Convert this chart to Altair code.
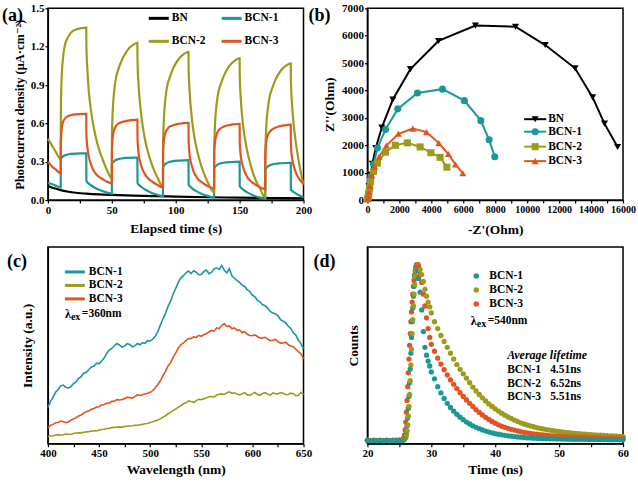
import altair as alt
import pandas as pd

FONT = "Liberation Serif, DejaVu Serif, serif"
SERIES = ["BN", "BCN-1", "BCN-2", "BCN-3"]
COLORS = ["#000000", "#1a9896", "#9c9c1c", "#e2541f"]

# ---------------- (a) photocurrent vs time ----------------
A_BN_T = [0, 2, 5, 10, 15, 20, 30, 40, 50, 75, 100, 125, 150, 175, 200]
A_BN_V = [0.112, 0.103, 0.092, 0.078, 0.067, 0.059, 0.050, 0.044, 0.040, 0.033,
          0.027, 0.022, 0.019, 0.016, 0.014]

A_B1_T = [0, 3, 6, 10,
          10.1, 11, 12.5, 15, 18, 22, 26, 30,
          30.1, 31, 33, 36, 40, 45, 50,
          50.1, 51, 52.5, 55, 58, 62, 66, 70,
          70.1, 71, 73, 76, 80, 85, 90,
          90.1, 91, 92.5, 95, 98, 102, 106, 110,
          110.1, 111, 113, 116, 120, 125, 130,
          130.1, 131, 132.5, 135, 138, 142, 146, 150,
          150.1, 151, 153, 156, 160, 165, 170,
          170.1, 171, 172.5, 175, 178, 182, 186, 190,
          190.1, 191, 193, 196, 200]
A_B1_V = [0.135, 0.125, 0.113, 0.100,
          0.318, 0.333, 0.346, 0.355, 0.361, 0.364, 0.365, 0.365,
          0.150, 0.138, 0.120, 0.100, 0.080, 0.063, 0.050,
          0.280, 0.296, 0.310, 0.320, 0.326, 0.330, 0.332, 0.333,
          0.135, 0.122, 0.104, 0.083, 0.062, 0.043, 0.030,
          0.255, 0.272, 0.287, 0.298, 0.305, 0.309, 0.311, 0.312,
          0.120, 0.108, 0.090, 0.070, 0.050, 0.033, 0.020,
          0.245, 0.262, 0.276, 0.287, 0.293, 0.297, 0.299, 0.300,
          0.110, 0.098, 0.080, 0.060, 0.040, 0.022, 0.010,
          0.235, 0.252, 0.266, 0.277, 0.284, 0.288, 0.290, 0.291,
          0.080, 0.072, 0.058, 0.040, 0.022]

A_B2_T = [0, 3, 6, 10,
          10.1, 10.5, 11, 12, 13.5, 15, 18, 22, 26, 30,
          30.1, 31, 32, 34, 36, 39, 42, 46, 50,
          50.1, 50.5, 51, 52, 53.5, 55, 58, 62, 66, 70,
          70.1, 71, 72, 74, 76, 79, 82, 86, 90,
          90.1, 90.5, 91, 92, 93.5, 95, 98, 102, 106, 110,
          110.1, 111, 112, 114, 116, 119, 122, 126, 130,
          130.1, 130.5, 131, 132, 133.5, 135, 138, 142, 146, 150,
          150.1, 151, 152, 154, 156, 159, 162, 166, 170,
          170.1, 170.5, 171, 172, 173.5, 175, 178, 182, 186, 190,
          190.1, 191, 192, 194, 196, 198, 200]
A_B2_V = [0.48, 0.43, 0.38, 0.32,
          0.66, 0.89, 1.01, 1.13, 1.22, 1.26, 1.31, 1.335, 1.345, 1.35,
          1.21, 1.00, 0.85, 0.68, 0.56, 0.43, 0.34, 0.24, 0.17,
          0.49, 0.65, 0.75, 0.87, 0.97, 1.02, 1.10, 1.17, 1.21, 1.23,
          1.09, 0.89, 0.76, 0.59, 0.47, 0.35, 0.26, 0.17, 0.10,
          0.42, 0.58, 0.68, 0.80, 0.90, 0.95, 1.03, 1.10, 1.14, 1.16,
          1.03, 0.83, 0.70, 0.53, 0.42, 0.30, 0.21, 0.12, 0.06,
          0.38, 0.53, 0.64, 0.75, 0.85, 0.90, 0.98, 1.05, 1.09, 1.11,
          0.98, 0.78, 0.65, 0.49, 0.38, 0.26, 0.17, 0.09, 0.02,
          0.34, 0.49, 0.60, 0.71, 0.81, 0.86, 0.94, 1.01, 1.05, 1.07,
          0.94, 0.75, 0.62, 0.45, 0.32, 0.21, 0.12]

A_B3_T = [0, 3, 6, 10,
          10.1, 10.5, 11, 12, 14, 17, 21, 25, 30,
          30.1, 30.5, 31, 32, 34, 37, 41, 45, 50,
          50.1, 50.5, 51, 52, 54, 57, 61, 65, 70,
          70.1, 70.5, 71, 72, 74, 77, 81, 85, 90,
          90.1, 90.5, 91, 92, 94, 97, 101, 105, 110,
          110.1, 110.5, 111, 112, 114, 117, 121, 125, 130,
          130.1, 130.5, 131, 132, 134, 137, 141, 145, 150,
          150.1, 150.5, 151, 152, 154, 157, 161, 165, 170,
          170.1, 170.5, 171, 172, 174, 177, 181, 185, 190,
          190.1, 190.5, 191, 192, 194, 197, 200]
A_B3_V = [0.30, 0.265, 0.24, 0.21,
          0.44, 0.52, 0.57, 0.615, 0.645, 0.662, 0.670, 0.673, 0.675,
          0.52, 0.45, 0.40, 0.34, 0.27, 0.21, 0.175, 0.15, 0.13,
          0.40, 0.47, 0.515, 0.555, 0.588, 0.607, 0.618, 0.625, 0.630,
          0.48, 0.41, 0.36, 0.305, 0.24, 0.185, 0.148, 0.122, 0.100,
          0.37, 0.44, 0.485, 0.528, 0.562, 0.582, 0.594, 0.600, 0.605,
          0.46, 0.39, 0.34, 0.29, 0.225, 0.17, 0.135, 0.110, 0.090,
          0.36, 0.43, 0.475, 0.515, 0.550, 0.572, 0.585, 0.592, 0.597,
          0.45, 0.385, 0.335, 0.285, 0.22, 0.165, 0.130, 0.105, 0.085,
          0.35, 0.42, 0.465, 0.505, 0.540, 0.562, 0.577, 0.585, 0.590,
          0.44, 0.375, 0.33, 0.28, 0.215, 0.16, 0.125]

# ---------------- (b) Nyquist ----------------
B_BN_X = [40, 70, 110, 160, 210, 310, 520, 900, 1590, 2690, 4450, 6760, 9270,
          11130, 13000, 14100, 14840, 15660]
B_BN_Y = [80, 250, 500, 750, 920, 1320, 1900, 2650, 3670, 4780, 5810, 6370, 6330,
          5660, 4810, 3750, 2790, 1940]
B_B1_X = [20, 50, 90, 140, 210, 380, 630, 1130, 1900, 3130, 4700, 6070, 7100, 7620, 7970]
B_B1_Y = [40, 130, 280, 480, 860, 1310, 1900, 2580, 3330, 3910, 4050, 3630, 2900, 2200, 1580]
B_B2_X = [20, 50, 90, 140, 200, 380, 630, 1130, 1750, 2500, 3300, 3970, 4550, 4970]
B_B2_Y = [40, 120, 250, 430, 680, 1040, 1350, 1750, 2000, 2090, 1940, 1730, 1560, 1200]
B_B3_X = [20, 50, 90, 150, 270, 460, 730, 1190, 1940, 2840, 3700, 4470, 5070, 5510, 5970]
B_B3_Y = [40, 130, 280, 520, 900, 1220, 1580, 1990, 2420, 2610, 2480, 2080, 1680, 1300, 980]

# ---------------- (c) PL spectra ----------------
C_WL = [400, 402.5, 405, 407.5, 410, 412.5, 415, 417.5, 420, 422.5,
        425, 427.5, 430, 432.5, 435, 437.5, 440, 442.5, 445, 447.5,
        450, 452.5, 455, 457.5, 460, 462.5, 465, 467.5, 470, 472.5,
        475, 477.5, 480, 482.5, 485, 487.5, 490, 492.5, 495, 497.5,
        500, 502.5, 505, 507.5, 510, 512.5, 515, 517.5, 520, 522.5,
        525, 527.5, 530, 532.5, 535, 537.5, 540, 542.5, 545, 547.5,
        550, 552.5, 555, 557.5, 560, 562.5, 565, 567.5, 570, 572.5,
        575, 577.5, 580, 582.5, 585, 587.5, 590, 592.5, 595, 597.5,
        600, 602.5, 605, 607.5, 610, 612.5, 615, 617.5, 620, 622.5,
        625, 627.5, 630, 632.5, 635, 637.5, 640, 642.5, 645, 647.5, 650]
C_B1 = [18.4, 21.5, 23.5, 26.2, 27.5, 29.4, 29.8, 28.6, 28.4, 29.0,
        30.5, 31.4, 33.2, 34.0, 35.8, 36.3, 37.6, 39.0, 39.4, 40.9,
        40.6, 42.0, 43.5, 45.9, 47.6, 48.4, 49.8, 50.9, 50.2, 49.1,
        49.6, 50.8, 50.4, 49.2, 49.7, 50.9, 50.3, 51.3, 51.0, 52.4,
        52.2, 53.1, 54.6, 57.0, 60.3, 63.5, 66.2, 69.8, 72.5, 76.1,
        79.0, 82.0, 84.2, 85.4, 86.9, 87.8, 86.5, 87.9, 87.2, 85.9,
        86.0, 87.6, 88.3, 86.4, 87.1, 88.9, 89.4, 88.6, 90.6, 88.2,
        86.8, 89.0, 85.3, 84.1, 82.9, 82.0, 80.6, 79.8, 78.2, 77.3,
        75.5, 74.6, 72.8, 72.0, 70.6, 70.1, 68.9, 67.2, 66.4, 66.0,
        65.0, 63.1, 62.3, 61.5, 59.8, 58.6, 56.4, 55.2, 52.6, 50.9, 48.3]
C_B2 = [3.6, 3.9, 4.0, 4.4, 4.6, 4.3, 4.5, 4.9, 4.8, 4.7,
        5.2, 5.4, 5.5, 5.5, 5.8, 6.0, 6.1, 6.4, 6.6, 6.5,
        6.9, 7.2, 7.3, 7.7, 7.8, 8.2, 8.3, 8.4, 8.5, 8.4,
        8.8, 8.9, 9.0, 9.1, 9.3, 9.4, 9.6, 9.8, 10.1, 10.3,
        10.8, 11.1, 11.6, 12.0, 12.6, 13.5, 14.2, 15.2, 15.9, 16.9,
        17.6, 18.6, 19.3, 20.3, 20.8, 21.8, 21.5, 20.9, 21.9, 22.6,
        22.4, 22.9, 23.2, 23.9, 24.0, 23.8, 24.6, 25.1, 25.3, 25.0,
        25.9, 26.3, 25.6, 25.9, 25.2, 24.8, 25.4, 25.9, 24.8, 24.5,
        25.3, 26.0, 25.0, 24.6, 25.5, 25.9, 25.1, 24.7, 25.8, 25.4,
        25.3, 26.0, 25.6, 24.9, 25.0, 25.7, 25.4, 24.4, 24.6, 26.1, 24.9]
C_B3 = [8.2, 9.3, 9.8, 10.6, 10.8, 11.5, 11.2, 10.7, 11.0, 11.9,
        12.6, 13.2, 14.1, 14.6, 15.5, 16.3, 16.7, 17.5, 17.9, 18.6,
        18.8, 19.7, 19.9, 20.5, 20.7, 21.5, 21.6, 22.4, 22.2, 22.5,
        22.9, 23.6, 23.4, 23.2, 23.9, 24.8, 24.5, 24.9, 25.3, 25.6,
        26.1, 27.0, 28.4, 30.1, 32.0, 34.6, 36.8, 39.5, 41.2, 43.9,
        46.0, 48.6, 50.3, 51.2, 52.4, 53.5, 53.4, 54.3, 54.0, 55.1,
        54.6, 55.4, 55.9, 56.8, 57.6, 57.2, 58.9, 58.5, 60.2, 61.0,
        59.6, 59.9, 58.4, 58.9, 57.6, 57.8, 56.4, 56.9, 55.6, 55.0,
        54.9, 55.3, 54.5, 53.6, 53.8, 54.1, 53.2, 52.4, 52.6, 53.0,
        51.9, 51.1, 51.2, 51.6, 50.4, 49.7, 49.3, 48.0, 46.8, 45.6, 43.2]

# ---------------- (d) TRPL decay ----------------
D_T = [20.0, 20.5, 21.0, 21.5, 22.0, 22.5, 23.0, 23.5, 24.0, 24.5, 25.0, 25.5,
       25.6, 25.7, 25.8, 25.9, 26.0, 26.1, 26.2, 26.3, 26.4, 26.5, 26.6, 26.7, 26.8,
       26.9, 27.0, 27.1, 27.2, 27.3, 27.4, 27.5, 27.6, 27.7, 27.8, 27.9, 28.0,
       28.25, 28.5, 28.75, 29.0, 29.25, 29.5, 29.75, 30.0,
       30.5, 31.0, 31.5, 32.0, 32.5, 33.0, 33.5, 34.0, 34.5, 35.0,
       35.5, 36.0, 36.5, 37.0, 37.5, 38.0, 38.5, 39.0, 39.5, 40.0,
       40.5, 41.0, 41.5, 42.0, 42.5, 43.0, 43.5, 44.0, 44.5, 45.0,
       45.5, 46.0, 46.5, 47.0, 47.5, 48.0, 48.5, 49.0, 49.5, 50.0,
       50.5, 51.0, 51.5, 52.0, 52.5, 53.0, 53.5, 54.0, 54.5, 55.0,
       55.5, 56.0, 56.5, 57.0, 57.5, 58.0, 58.5, 59.0, 59.5, 60.0]
D_B1 = [1.6, 1.5, 1.6, 1.5, 1.6, 1.5, 1.6, 1.5, 1.6, 1.5, 1.6, 1.7,
        1.8, 2.0, 2.4, 3.0, 4.0, 6.0, 9.0, 13, 18, 24, 31, 38, 46, 54, 62, 69, 75,
        80, 85, 88, 90, 91, 90.5, 88, 84,
        77, 68, 57, 49, 45, 42, 39.5, 36.5,
        33, 29, 25.8, 23, 20.5, 18.4, 16.5, 14.9, 13.5, 12.2,
        11.0, 10.0, 9.1, 8.3, 7.6, 7.0, 6.4, 5.9, 5.5, 5.1,
        4.8, 4.5, 4.25, 4.0, 3.8, 3.6, 3.45, 3.3, 3.15, 3.0,
        2.9, 2.8, 2.7, 2.65, 2.6, 2.55, 2.5, 2.45, 2.4, 2.4,
        2.35, 2.3, 2.3, 2.25, 2.25, 2.2, 2.2, 2.2, 2.15, 2.15,
        2.15, 2.1, 2.1, 2.1, 2.1, 2.05, 2.05, 2.05, 2.0, 2.0]
D_B2 = [1.8, 1.7, 1.8, 1.7, 1.8, 1.7, 1.8, 1.7, 1.8, 1.8, 1.8, 1.9,
        2.0, 2.1, 2.3, 2.7, 3.3, 4.5, 6.5, 9.5, 14, 19, 25, 32, 40, 48, 56, 63, 70,
        76, 81, 85, 88, 90, 91, 91, 90.5,
        88.5, 86, 82.5, 78.5, 75, 72, 69.5, 66.5,
        62, 58.5, 55, 52, 49, 46, 43, 40.2, 37.8, 35.5,
        33.3, 31, 28.8, 26.8, 25, 23.3, 21.7, 20.2, 18.9, 17.7,
        16.6, 15.5, 14.5, 13.6, 12.8, 12, 11.3, 10.6, 10.0, 9.5,
        9.0, 8.6, 8.2, 7.8, 7.5, 7.2, 6.9, 6.6, 6.4, 6.2,
        6.0, 5.8, 5.6, 5.4, 5.25, 5.1, 4.95, 4.8, 4.7, 4.6,
        4.5, 4.4, 4.3, 4.2, 4.1, 4.0, 3.9, 3.8, 3.7, 3.6]
D_B3 = [1.7, 1.6, 1.7, 1.6, 1.7, 1.6, 1.7, 1.6, 1.7, 1.7, 1.8, 2.0,
        2.3, 3.0, 4.5, 7, 11, 16, 22, 29, 36, 43, 50, 56, 62, 67, 72, 76, 80,
        83, 86, 88, 89.5, 90.5, 91, 91, 90,
        86, 82, 76, 70, 64, 58.5, 54, 50.5,
        47, 43.5, 40.5, 37.6, 35, 32.4, 30.2, 28, 25.9, 24.0,
        22.2, 20.5, 18.9, 17.3, 15.9, 14.6, 13.4, 12.3, 11.3, 10.4,
        9.6, 8.9, 8.3, 7.8, 7.3, 6.9, 6.5, 6.1, 5.8, 5.5,
        5.2, 5.0, 4.8, 4.6, 4.45, 4.3, 4.15, 4.0, 3.9, 3.8,
        3.7, 3.6, 3.55, 3.5, 3.45, 3.4, 3.35, 3.3, 3.25, 3.2,
        3.15, 3.1, 3.05, 3.0, 3.0, 2.95, 2.95, 2.9, 2.9, 2.85]

LIFETIMES = ["4.51ns", "6.52ns", "5.51ns"]

# ---------------- helpers ----------------
W = 256
H_TOP = 192
H_BOT = 197
DUMMY = pd.DataFrame({"d": [0]})
COLOR = alt.Color("s:N", scale=alt.Scale(domain=SERIES, range=COLORS), legend=None)


def frame(parts):
    out = []
    for name, xs, ys in parts:
        out.append(pd.DataFrame({"x": xs, "y": ys, "s": name, "o": list(range(len(xs)))}))
    return pd.concat(out, ignore_index=True)


def rule(x1, x2, y, color, w=3):
    return alt.Chart(DUMMY).mark_rule(color=color, strokeWidth=w).encode(
        x=alt.value(x1), x2=alt.value(x2), y=alt.value(y))


def label(x, y, s, size=11.5, style="normal"):
    return alt.Chart(DUMMY).mark_text(
        align="left", baseline="middle", font=FONT, fontWeight="bold",
        fontSize=size, fontStyle=style, color="black").encode(
        x=alt.value(x), y=alt.value(y), text=alt.value(s))


def dot(x, y, color, shape="circle", size=40):
    return alt.Chart(DUMMY).mark_point(filled=True, opacity=1, shape=shape,
                                       size=size, color=color).encode(
        x=alt.value(x), y=alt.value(y))


def xaxis(title, values, major, pad, fmt="d", size=11):
    expr = "(datum.value % " + str(major) + " == 0) ? datum.label : ''"
    return alt.Axis(title=title, values=values, titlePadding=pad, labelExpr=expr,
                    format=fmt, labelOverlap=False, labelFontSize=size,
                    labelFlush=False)


# ---------------- panel (a) ----------------
dfa = frame([("BN", A_BN_T, A_BN_V), ("BCN-1", A_B1_T, A_B1_V),
             ("BCN-2", A_B2_T, A_B2_V), ("BCN-3", A_B3_T, A_B3_V)])
a_lines = alt.Chart(dfa).mark_line(strokeWidth=2.2, interpolate="monotone").encode(
    x=alt.X("x:Q", scale=alt.Scale(domain=[0, 200], nice=False),
            axis=xaxis("Elapsed time (s)", [0, 25, 50, 75, 100, 125, 150, 175, 200], 50, 6)),
    y=alt.Y("y:Q", scale=alt.Scale(domain=[0, 1.5], nice=False),
            axis=alt.Axis(title="Photocurrent density (μA·cm⁻²)", titleFontSize=12.5,
                          values=[0, 0.3, 0.6, 0.9, 1.2, 1.5], format=".1f", titlePadding=4)),
    color=COLOR, strokeWidth=alt.condition("datum.s == 'BN'", alt.value(2.8), alt.value(2.2)),
    order=alt.Order("o:Q"))
pa = alt.layer(
    a_lines,
    rule(101, 121, 10, COLORS[0]), label(124, 10, "BN"),
    rule(174, 194, 10, COLORS[1]), label(197, 10, "BCN-1"),
    rule(101, 121, 33, COLORS[2]), label(124, 33, "BCN-2"),
    rule(174, 194, 33, COLORS[3]), label(197, 33, "BCN-3"),
    label(-46, 8, "(a)", size=18),
).properties(width=W, height=H_TOP)

# ---------------- panel (b) ----------------
dfb = frame([("BN", B_BN_X, B_BN_Y), ("BCN-1", B_B1_X, B_B1_Y),
             ("BCN-2", B_B2_X, B_B2_Y), ("BCN-3", B_B3_X, B_B3_Y)])
SHAPES = ["triangle-down", "circle", "square", "triangle-up"]
bx = alt.X("x:Q", scale=alt.Scale(domain=[0, 16000], nice=False),
           axis=xaxis("-Z'(Ohm)", list(range(0, 16001, 1000)), 2000, 8, size=10))
by = alt.Y("y:Q", scale=alt.Scale(domain=[0, 7000], nice=False),
           axis=alt.Axis(title="Z''(Ohm)", values=list(range(0, 7001, 1000)),
                         format="d", titlePadding=5, labelOverlap=False))
b_lines = alt.Chart(dfb).mark_line(strokeWidth=2).encode(
    x=bx, y=by, color=COLOR, order=alt.Order("o:Q"))
b_pts = alt.Chart(dfb).mark_point(filled=True, opacity=1, size=50).encode(
    x=bx, y=by, color=COLOR,
    shape=alt.Shape("s:N", scale=alt.Scale(domain=SERIES, range=SHAPES), legend=None))
b_leg = []
for i, (nm, yy) in enumerate(zip(SERIES, [111, 123.5, 138.5, 153])):
    b_leg += [rule(157, 179, yy, COLORS[i], w=2), dot(168, yy, COLORS[i], SHAPES[i], 50),
              label(181, yy, nm)]
pb = alt.layer(b_lines, b_pts, *b_leg, label(-59, 8, "(b)", size=18)).properties(
    width=W, height=H_TOP)

# ---------------- panel (c) ----------------
dfc = frame([("BCN-1", C_WL, C_B1), ("BCN-2", C_WL, C_B2), ("BCN-3", C_WL, C_B3)])
c_lines = alt.Chart(dfc).mark_line(strokeWidth=1.6).encode(
    x=alt.X("x:Q", scale=alt.Scale(domain=[400, 650], nice=False),
            axis=xaxis("Wavelength (nm)", [400, 425, 450, 475, 500, 525, 550, 575, 600, 625, 650], 50, 4)),
    y=alt.Y("y:Q", scale=alt.Scale(domain=[0, 100], nice=False),
            axis=alt.Axis(title="Intensity (a.u.)", labels=False, ticks=False, titlePadding=13)),
    color=COLOR, order=alt.Order("o:Q"))
pc = alt.layer(
    c_lines,
    rule(17, 37, 25, COLORS[1]), label(41, 25, "BCN-1"),
    rule(17, 37, 38.5, COLORS[2]), label(41, 38.5, "BCN-2"),
    rule(17, 37, 52, COLORS[3]), label(41, 52, "BCN-3"),
    label(17, 67, "λ", size=12), label(23, 70, "ex", size=10), label(34, 67, "=360nm", size=11.5),
    label(-41, 15, "(c)", size=18),
).properties(width=W, height=H_BOT)

# ---------------- panel (d) ----------------
dfd = frame([("BCN-2", D_T, D_B2), ("BCN-3", D_T, D_B3), ("BCN-1", D_T, D_B1)])
d_pts = alt.Chart(dfd).mark_circle(size=28, opacity=1).encode(
    x=alt.X("x:Q", scale=alt.Scale(domain=[20, 60], nice=False),
            axis=xaxis("Time (ns)", [20, 25, 30, 35, 40, 45, 50, 55, 60], 10, 4)),
    y=alt.Y("y:Q", scale=alt.Scale(domain=[0, 100], nice=False),
            axis=alt.Axis(title="Counts", labels=False, ticks=False, titlePadding=7)),
    color=COLOR, order=alt.Order("o:Q"))
pdd = alt.layer(
    d_pts,
    dot(109, 29, COLORS[1], size=30), label(122, 29, "BCN-1"),
    dot(109, 43, COLORS[2], size=30), label(122, 43, "BCN-2"),
    dot(109, 57, COLORS[3], size=30), label(122, 57, "BCN-3"),
    label(103.5, 74, "λ", size=12), label(109.5, 77, "ex", size=10), label(120.5, 74, "=540nm", size=11.5),
    label(140, 108, "Average lifetime", size=12, style="italic"),
    label(140, 123, "BCN-1"), label(183, 123, LIFETIMES[0]),
    label(140, 137, "BCN-2"), label(183, 137, LIFETIMES[1]),
    label(140, 150, "BCN-3"), label(183, 150, LIFETIMES[2]),
    label(-54, 15, "(d)", size=18),
).properties(width=W, height=H_BOT)

chart = alt.concat(
    pa, pb, pc, pdd, columns=2,
    spacing={"row": 47, "column": 64}, bounds="flush", align="each",
).properties(
    padding={"left": 1, "top": 1, "right": 1, "bottom": 1},
    background="white",
).configure(
    font=FONT
).configure_view(
    stroke="black", strokeWidth=1.5
).configure_axis(
    labelFont=FONT, labelFontWeight="bold", labelFontSize=11, labelColor="black",
    titleFont=FONT, titleFontWeight="bold", titleFontSize=13.5, titleColor="black",
    domainColor="black", domainWidth=1.3, tickColor="black", tickWidth=1.2,
    tickSize=3, labelPadding=1, grid=False,
)

chart.save("out.html", embed_options={"renderer": "svg", "actions": False})
